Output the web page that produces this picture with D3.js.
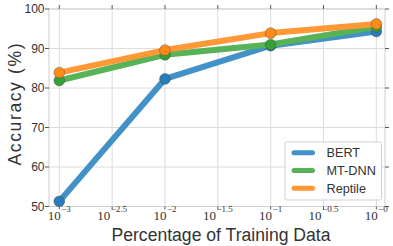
<!DOCTYPE html>
<html><head><meta charset="utf-8">
<script src="https://cdn.jsdelivr.net/npm/d3@7"></script>
<style>body{margin:0;background:#fff}svg{display:block}</style>
</head><body>
<svg id="c" width="393" height="246"></svg>
<script>
const xExps = [-3, -2, -1, 0];
const tickExps = ["-3", "-2.5", "-2", "-1.5", "-1", "-0.5", "-0"];
const tickVals = [-3, -2.5, -2, -1.5, -1, -0.5, 0];
const yTicks = [50, 60, 70, 80, 90, 100];
const seriesNames = ["BERT", "MT-DNN", "Reptile"];
const bert = [51.3, 82.3, 90.7, 94.3];
const mtdnn = [81.9, 88.4, 91.0, 95.5];
const reptile = [83.9, 89.6, 93.9, 96.2];
const lineColors = ["#4291c7", "#58b258", "#ff9835"];
const dotColors = ["#2a7cb8", "#36a036", "#ff8a1a"];

const svg = d3.select("#c");
const L = 49, R = 385, T = 9, B = 206.5;
const x = d3.scaleLinear().domain([-3.0975, 0.082]).range([L, R]);
const y = d3.scaleLinear().domain([50, 100]).range([B, T]);

// grid
svg.append("g").selectAll("line").data(tickVals).join("line")
  .attr("x1", d => x(d)).attr("x2", d => x(d)).attr("y1", T).attr("y2", B)
  .attr("stroke", "#dcdcdc").attr("stroke-width", 1);
svg.append("g").selectAll("line").data(yTicks).join("line")
  .attr("x1", L).attr("x2", R).attr("y1", d => y(d)).attr("y2", d => y(d))
  .attr("stroke", "#dcdcdc").attr("stroke-width", 1);
// spines
svg.append("rect").attr("x", L).attr("y", T).attr("width", R - L).attr("height", B - T)
  .attr("fill", "none").attr("stroke", "#cfcfcf").attr("stroke-width", 1);

// ticks
const tk = svg.append("g").attr("stroke", "#555").attr("stroke-width", 1);
tickVals.forEach(v => {
  tk.append("line").attr("x1", x(v)).attr("x2", x(v)).attr("y1", T - 4).attr("y2", T);
  tk.append("line").attr("x1", x(v)).attr("x2", x(v)).attr("y1", B).attr("y2", B + 3);
});
yTicks.forEach(v => {
  tk.append("line").attr("x1", L - 4).attr("x2", L).attr("y1", y(v)).attr("y2", y(v));
  tk.append("line").attr("x1", R).attr("x2", R + 4).attr("y1", y(v)).attr("y2", y(v));
});

// y labels
svg.append("g").selectAll("text").data(yTicks).join("text")
  .attr("x", L - 4.5).attr("y", d => y(d)).attr("dy", "0.36em")
  .attr("text-anchor", "end").attr("font-family", "Liberation Sans, Arial, sans-serif")
  .attr("font-size", 12).attr("fill", "#333").text(d => d);

// x labels: "10" with superscript exponent, whole label centred on tick
const xl = svg.append("g").attr("font-family", "Liberation Serif, serif").attr("fill", "#333");
tickVals.forEach((v, i) => {
  const g = xl.append("g");
  const base = g.append("text").attr("x", 0).attr("y", 220).attr("font-size", 13).text("10");
  const bw = base.node().getComputedTextLength();
  const ex = g.append("text").attr("x", bw + 0.5).attr("y", 212).attr("font-size", 9)
    .text(tickExps[i].replace("-", "\u2212"));
  const ew = ex.node().getComputedTextLength();
  g.attr("transform", `translate(${x(v) - (bw + 0.5 + ew) / 2},0)`);
});

svg.append("text").attr("x", 221).attr("y", 241).attr("text-anchor", "middle")
  .attr("font-family", "Liberation Sans, Arial, sans-serif").attr("font-size", 17.6)
  .attr("fill", "#333").text("Percentage of Training Data");
svg.append("text").attr("transform", `translate(21,104.5) rotate(-90)`)
  .attr("text-anchor", "middle")
  .attr("font-family", "Liberation Sans, Arial, sans-serif").attr("font-size", 17.6)
  .attr("textLength", 122).attr("lengthAdjust", "spacing")
  .attr("fill", "#333").text("Accuracy (%)");

// series
const data = [bert, mtdnn, reptile];
const line = d3.line().x((d, i) => x(xExps[i])).y(d => y(d));
data.forEach((s, k) => {
  const g = svg.append("g");
  g.append("path").attr("d", line(s)).attr("fill", "none")
    .attr("stroke", lineColors[k]).attr("stroke-width", 6).attr("stroke-linejoin", "round");
  g.selectAll("circle").data(s).join("circle")
    .attr("cx", (d, i) => x(xExps[i])).attr("cy", d => y(d)).attr("r", 5.4)
    .attr("fill", dotColors[k]).attr("stroke", "#444").attr("stroke-opacity", 0.5).attr("stroke-width", 0.8);
});

// legend
const lg = svg.append("g");
lg.append("rect").attr("x", 285).attr("y", 142).attr("width", 96.5).attr("height", 58)
  .attr("fill", "#fff").attr("fill-opacity", 0.85).attr("stroke", "#d0d0d0").attr("stroke-width", 1).attr("rx", 1.5);
seriesNames.forEach((n, k) => {
  const yy = 152.7 + k * 17.8;
  lg.append("line").attr("x1", 294).attr("x2", 312.5).attr("y1", yy).attr("y2", yy)
    .attr("stroke", lineColors[k]).attr("stroke-width", 5).attr("stroke-linecap", "round");
  lg.append("text").attr("x", 326.5).attr("y", yy).attr("dy", "0.36em")
    .attr("font-family", "Liberation Sans, Arial, sans-serif").attr("font-size", 12.7)
    .attr("fill", "#333").text(n);
});
</script>
</body></html>
